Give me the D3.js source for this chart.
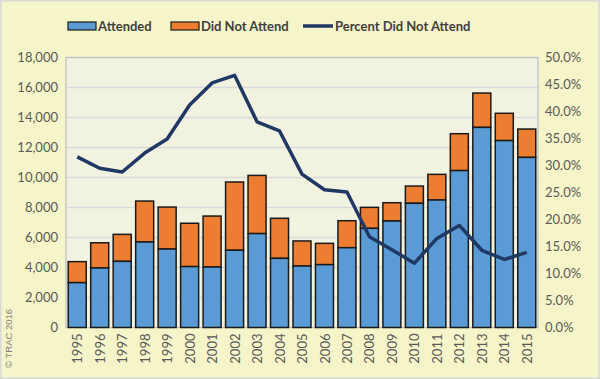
<!DOCTYPE html>
<html>
<head>
<meta charset="utf-8">
<script src="https://cdn.jsdelivr.net/npm/d3@7/dist/d3.min.js"></script>
<style>
  html, body { margin: 0; padding: 0; background: #fff; }
  svg { display: block; }
  text { font-family: Lato, "Open Sans", sans-serif; }
</style>
</head>
<body>
<svg id="chart" width="600" height="379"></svg>
<script>
const years = ["1995","1996","1997","1998","1999","2000","2001","2002","2003","2004","2005","2006","2007","2008","2009","2010","2011","2012","2013","2014","2015"];
const attended = [2990,3970,4410,5700,5230,4060,4030,5150,6260,4610,4100,4190,5320,6610,7100,8280,8500,10460,13340,12460,11340];
const didNotAttend = [1400,1680,1800,2730,2800,2890,3400,4550,3880,2670,1670,1420,1800,1400,1220,1150,1710,2460,2290,1820,1890];
const pctDidNotAttend = [31.6,29.5,28.8,32.3,34.9,41.2,45.3,46.7,38.1,36.4,28.4,25.5,25.1,16.8,14.4,11.9,16.5,18.9,14.3,12.6,13.9];
const leftTicks = [0,2000,4000,6000,8000,10000,12000,14000,16000,18000];
const rightTicks = [0,5,10,15,20,25,30,35,40,45,50];

const svg = d3.select("#chart");
const W = 600, H = 379;
const plot = {left: 66, right: 538, top: 57.5, bottom: 327.5};

// backgrounds
svg.append("rect").attr("x",0).attr("y",0).attr("width",W).attr("height",H).attr("fill","#D9D9D9");
svg.append("rect").attr("x",1.5).attr("y",1.5).attr("width",W-3).attr("height",H-3).attr("fill","#F5F5C9");
svg.append("rect").attr("x",plot.left).attr("y",plot.top).attr("width",plot.right-plot.left).attr("height",plot.bottom-plot.top)
  .attr("fill","#F2F2E0");

const y = d3.scaleLinear().domain([0,18000]).range([plot.bottom, plot.top]);
const y2 = d3.scaleLinear().domain([0,50]).range([plot.bottom, plot.top]);
const xc = d3.scalePoint().domain(years).range([plot.left + (plot.right-plot.left)/42, plot.right - (plot.right-plot.left)/42]);

// gridlines
svg.append("g").selectAll("line").data(leftTicks.filter(d=>d>0)).join("line")
  .attr("x1",plot.left).attr("x2",plot.right)
  .attr("y1",d=>y(d)).attr("y2",d=>y(d))
  .attr("stroke","#D9D9D9").attr("stroke-width",1.5);

// plot frame
svg.append("rect").attr("x",plot.left).attr("y",plot.top).attr("width",plot.right-plot.left).attr("height",plot.bottom-plot.top)
  .attr("fill","none").attr("stroke","#BFBFBF").attr("stroke-width",1.2);

// bars
const bw = 18;
const barG = svg.append("g");
years.forEach((yr,i)=>{
  const cx = xc(yr);
  const total = attended[i] + didNotAttend[i];
  barG.append("rect").attr("x",cx-bw/2).attr("y",y(total)).attr("width",bw).attr("height",y(attended[i])-y(total))
    .attr("fill","#ED7D31").attr("stroke","#1a1a1a").attr("stroke-width",1.5);
  barG.append("rect").attr("x",cx-bw/2).attr("y",y(attended[i])).attr("width",bw).attr("height",y(0)-y(attended[i]))
    .attr("fill","#5B9BD5").attr("stroke","#1a1a1a").attr("stroke-width",1.5);
});

// line
const line = d3.line().x((d,i)=>xc(years[i])).y(d=>y2(d));
svg.append("path").datum(pctDidNotAttend).attr("d",line)
  .attr("fill","none").attr("stroke","#1F3864").attr("stroke-width",3.5).attr("stroke-linejoin","round");

// axes
const fmt = d3.format(",");
const leftAxis = d3.axisLeft(y).tickValues(leftTicks).tickFormat(fmt).tickSize(0).tickPadding(8);
const gl = svg.append("g").attr("transform",`translate(${plot.left},0)`).call(leftAxis);
gl.select(".domain").remove();
gl.selectAll("text").attr("font-size",13).attr("fill","#595959");

const rightAxis = d3.axisRight(y2).tickValues(rightTicks).tickFormat(d=>d.toFixed(1)+"%").tickSize(0).tickPadding(7);
const gr = svg.append("g").attr("transform",`translate(${plot.right},0)`).call(rightAxis);
gr.select(".domain").remove();
gr.selectAll("text").attr("font-size",13).attr("fill","#595959");

const bottomAxis = d3.axisBottom(xc).tickSize(0);
const gb = svg.append("g").attr("transform",`translate(0,${plot.bottom})`).call(bottomAxis);
gb.select(".domain").remove();
gb.selectAll("text").attr("font-size",13).attr("fill","#595959")
  .attr("transform","rotate(-90)").attr("text-anchor","end").attr("dy","0.35em").attr("x",-6).attr("y",0);

// legend
const leg = svg.append("g");
const legItems = [
  {label:"Attended", type:"rect", color:"#5B9BD5", x:68, w:28, tx:98},
  {label:"Did Not Attend", type:"rect", color:"#ED7D31", x:171, w:28, tx:201},
  {label:"Percent Did Not Attend", type:"line", color:"#1F3864", x:303, w:30, tx:335}
];
legItems.forEach(it=>{
  if (it.type==="rect") {
    leg.append("rect").attr("x",it.x).attr("y",22).attr("width",it.w).attr("height",8)
      .attr("fill",it.color).attr("stroke","#1a1a1a").attr("stroke-width",1.2);
  } else {
    leg.append("line").attr("x1",it.x).attr("x2",it.x+it.w).attr("y1",26).attr("y2",26)
      .attr("stroke",it.color).attr("stroke-width",3.5);
  }
  leg.append("text").attr("x",it.tx).attr("y",26).attr("dy","0.35em")
    .attr("font-size",13).attr("font-weight","bold").attr("fill","#404040").text(it.label);
});

// copyright
svg.append("text").attr("transform","translate(11.5,368) rotate(-90)")
  .attr("font-size",9.5).attr("fill","#7F7F7F").style("font-family","'Liberation Sans', Arial, sans-serif")
  .text("© TRAC 2016");
</script>
</body>
</html>
